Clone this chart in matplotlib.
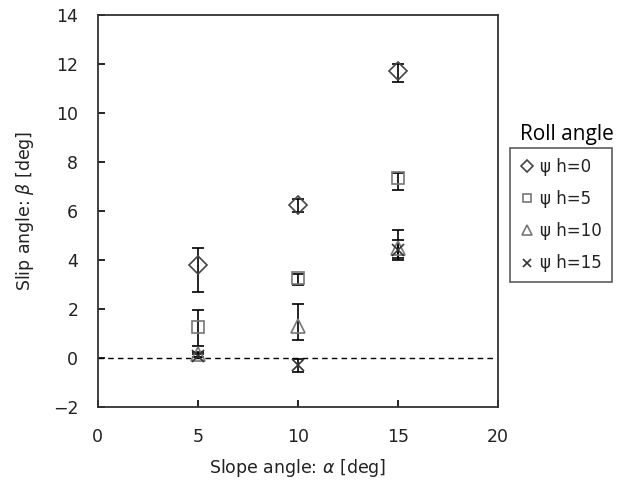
import matplotlib
matplotlib.use("Agg")
import matplotlib.pyplot as plt
import numpy as np

slope = [5, 10, 15]
labels = ["\u03c8 h=0", "\u03c8 h=5", "\u03c8 h=10", "\u03c8 h=15"]
markers = ["D", "s", "^", "x"]
msizes = [9, 9, 10, 8]

beta_0 = [3.8, 6.25, 11.7]
beta_0_lo = [1.1, 0.3, 0.45]
beta_0_hi = [0.7, 0.25, 0.3]

beta_5 = [1.25, 3.25, 7.35]
beta_5_lo = [0.75, 0.25, 0.5]
beta_5_hi = [0.7, 0.2, 0.2]

beta_10 = [0.15, 1.3, 4.5]
beta_10_lo = [0.1, 0.57, 0.4]
beta_10_hi = [0.1, 0.9, 0.72]

beta_15 = [0.1, -0.3, 4.4]
beta_15_lo = [0.05, 0.26, 0.4]
beta_15_hi = [0.05, 0.27, 0.4]

series = [(beta_0, beta_0_lo, beta_0_hi), (beta_5, beta_5_lo, beta_5_hi),
          (beta_10, beta_10_lo, beta_10_hi), (beta_15, beta_15_lo, beta_15_hi)]
colors = ["#444444", "#777777", "#777777", "#333333"]

fig = plt.figure(figsize=(6.39, 4.88), dpi=100)
ax = fig.add_axes([0.153, 0.166, 0.626, 0.803])

ax.axhline(0, color="black", lw=1.0, ls=(0, (4, 3)), zorder=1)

handles = []
for (y, lo, hi), m, ms, c, lab in zip(series, markers, msizes, colors, labels):
    ax.errorbar(slope, y, yerr=[lo, hi], fmt="none", ecolor="black",
                elinewidth=1.2, capsize=4, capthick=1.2, zorder=2)
    if m == "x":
        h = ax.plot(slope, y, ls="none", marker=m, ms=ms, mew=1.2, color=c,
                    label=lab, zorder=3)[0]
    else:
        h = ax.plot(slope, y, ls="none", marker=m, ms=ms, mew=1.2, mfc="none",
                    mec=c, label=lab, zorder=3)[0]
    handles.append(h)

ax.set_xlim(0, 20)
ax.set_ylim(-2, 14)
ax.set_xticks([0, 5, 10, 15, 20])
ax.set_yticks(np.arange(-2, 15, 2))
ax.tick_params(direction="in", length=5, width=1.2, labelsize=12.5,
               labelcolor="#222222")
ax.tick_params(axis="x", pad=15)
ax.tick_params(axis="y", pad=14)
for s in ax.spines.values():
    s.set_linewidth(1.3)
    s.set_color("#333333")

ax.set_xlabel("Slope angle: $\\alpha$ [deg]", fontsize=12.5, color="#222222",
              labelpad=8)
ax.set_ylabel("Slip angle: $\\beta$ [deg]", fontsize=12.5, color="#222222",
              labelpad=12)

leg = fig.legend(handles=handles, labels=labels, loc="upper left",
                 bbox_to_anchor=(0.798, 0.697), borderaxespad=0.0,
                 frameon=True, fancybox=False,
                 edgecolor="#333333", fontsize=12, handlelength=0.8,
                 handletextpad=0.4, borderpad=0.6, labelspacing=0.85,
                 markerscale=0.7)
leg.get_frame().set_linewidth(1.2)
for t in leg.get_texts():
    t.set_color("#222222")

fig.text(0.887, 0.724, "Roll angle", fontsize=15, ha="center", va="center",
         family="Open Sans")

fig.savefig("out.png", dpi=100)
